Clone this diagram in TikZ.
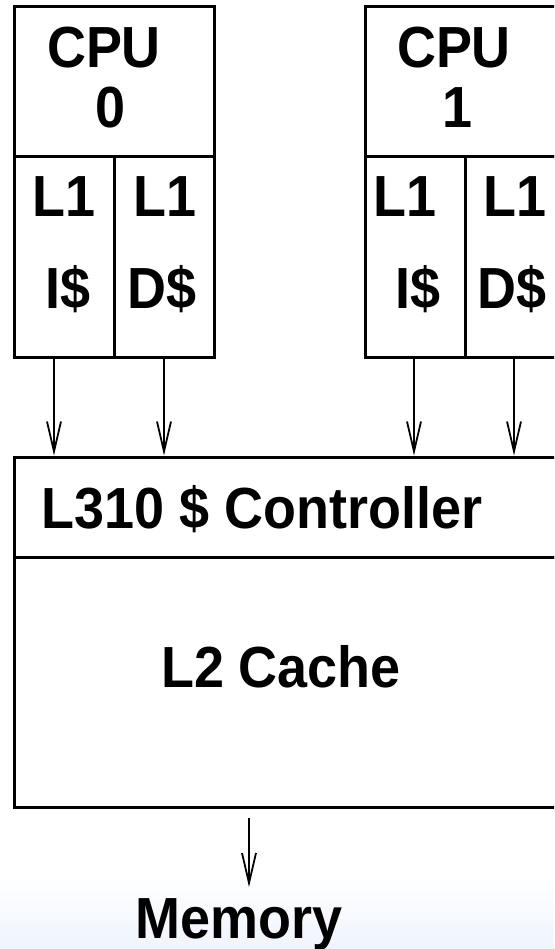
\documentclass[tikz,border=0pt]{standalone}
\usepackage{fontspec}
\usepackage{graphicx}
\setmainfont{Liberation Sans}
\usetikzlibrary{arrows.meta}
\definecolor{bgblue}{RGB}{239,244,252}
\newcommand\narrowtxt[1]{\scalebox{0.93}[1]{#1}}
\begin{document}
\begin{tikzpicture}[x=1pt,y=-1pt,
  box/.style={draw=black,line width=3pt,inner sep=0pt,fill=none},
  lbl/.style={anchor=base,inner sep=0pt,font=\fontsize{58}{60}\selectfont\bfseries},
  arr/.style={line width=2pt,-{Straight Barb[length=30pt,width=14pt,line width=1.8pt]}}]
\useasboundingbox (0,0) rectangle (554,949);
\clip (0,0) rectangle (554,949);
\shade[top color=white,bottom color=bgblue] (0,875) rectangle (554,949);
% CPU 0
\node[box,minimum width=200pt,minimum height=150pt] (cpu0) at (114,82) {};
\node[box,minimum width=100pt,minimum height=200pt] (l1i0) at (64,257) {};
\node[box,minimum width=100pt,minimum height=200pt] (l1d0) at (164,257) {};
\node[lbl] (cpu0a) at (104,68) {\narrowtxt{CPU}};
\node[lbl] (cpu0b) at (110,128) {\narrowtxt{0}};
\node[lbl] (l1i0a) at (64,217) {\narrowtxt{L1}};
\node[lbl] (l1i0b) at (68,308) {\narrowtxt{I\$}};
\node[lbl] (l1d0a) at (165,217) {\narrowtxt{L1}};
\node[lbl] (l1d0b) at (162,308) {\narrowtxt{D\$}};
% CPU 1
\node[box,minimum width=200pt,minimum height=150pt] (cpu1) at (465,82) {};
\node[box,minimum width=100pt,minimum height=200pt] (l1i1) at (415,257) {};
\node[box,minimum width=100pt,minimum height=200pt] (l1d1) at (515,257) {};
\node[lbl] (cpu1a) at (454,68) {\narrowtxt{CPU}};
\node[lbl] (cpu1b) at (457,128) {\narrowtxt{1}};
\node[lbl] (l1i1a) at (405,217) {\narrowtxt{L1}};
\node[lbl] (l1i1b) at (418,308) {\narrowtxt{I\$}};
\node[lbl] (l1d1a) at (515,217) {\narrowtxt{L1}};
\node[lbl] (l1d1b) at (512,308) {\narrowtxt{D\$}};
% L2
\node[box,minimum width=550pt,minimum height=100pt] (ctrl) at (289,507) {};
\node[box,minimum width=550pt,minimum height=250pt] (cache) at (289,682) {};
\node[lbl] (ctrlt) at (262,528) {\narrowtxt{L310 \$ Controller}};
\node[lbl] (cachet) at (281,687) {\narrowtxt{L2 Cache}};
\node[lbl] (mem) at (239,938) {\narrowtxt{Memory}};
% arrows
\draw[arr] ([xshift=-10pt]l1i0.south) -- ([xshift=-10pt]l1i0.south |- ctrl.north);
\draw[arr] (l1d0.south) -- (l1d0.south |- ctrl.north);
\draw[arr] ([xshift=-1pt]l1i1.south) -- ([xshift=-1pt]l1i1.south |- ctrl.north);
\draw[arr] ([xshift=-1pt]l1d1.south) -- ([xshift=-1pt]l1d1.south |- ctrl.north);
\coordinate (memin) at (249,818);
\coordinate (memout) at (249,887);
\draw[arr] (memin) -- (memout);
\end{tikzpicture}
\end{document}
